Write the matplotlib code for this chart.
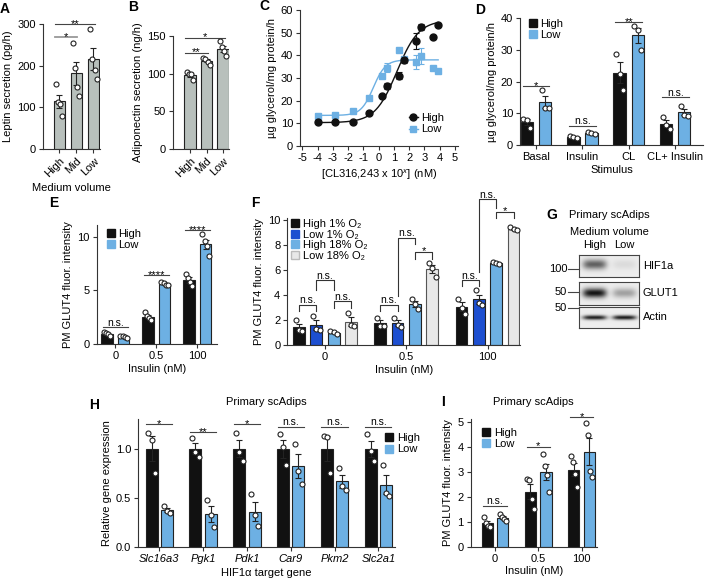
import numpy as np
import matplotlib
matplotlib.use('Agg')
import matplotlib.pyplot as plt
from matplotlib.lines import Line2D

plt.rcParams['font.family'] = ['Liberation Sans', 'DejaVu Sans']
plt.rcParams['font.size'] = 8
plt.rcParams['mathtext.fontset'] = 'custom'
plt.rcParams['mathtext.rm'] = 'Liberation Sans'
plt.rcParams['mathtext.it'] = 'Liberation Sans:italic'
plt.rcParams['axes.linewidth'] = 0.8
plt.rcParams['axes.unicode_minus'] = False

W, H = 705, 585

BLACK = '#111111'
LBLUE = '#6DB0E3'
BLUE = '#1D4FD0'
LGRAY = '#E8E8E8'
GRAYBAR = '#B8C0BC'
AX = '#333333'
EDGE = '#222222'

# ---------------- data ----------------
# A / B: secretion per medium volume
volumes = ['High', 'Mid', 'Low']
leptin = [[157, 112, 108, 80], [255, 195, 148, 127], [288, 215, 190, 169]]
adipo = [[102, 100, 99, 91], [121, 119, 116, 112], [143, 136, 130, 124]]

# C: dose response (log dose, mean, sem)
cl_logdose = [-4, -2.85, -1.7, -0.6, 0.25, 0.55, 1.35, 1.65, 2.45, 2.75, 3.55, 3.9]
cl_high = [10.4, 10.4, 10.7, 14.4, 21.9, 26.5, 31.0, 37.8, 46.3, 52.6, 48.1, 53.2]
cl_high_err = [0, 0, 0, 0, 0, 1.5, 1.5, 1.0, 3.5, 1.3, 0, 0]
cl_low = [13.1, 13.8, 15.4, 21.3, 30.7, 34.6, 42.4, 38.4, 37.1, 39.7, 34.3, 33.2]
cl_low_err = [0, 0, 0, 0, 0, 1.8, 0, 1.0, 3.0, 3.5, 0, 0]
# fitted curves: bottom, top, midpoint, slope
fit_high = (10.3, 55.5, 1.2, 1.4)
fit_low = (13.5, 38.0, -0.35, 2.5)

# D: lipolysis by stimulus
stimuli = ['Basal', 'Insulin', 'CL', 'CL+ Insulin']
d_high = [[8.2, 7.9, 5.2], [2.8, 2.6, 2.2], [28.8, 22.4, 17.3], [8.8, 6.2, 5.0]]
d_low = [[17.3, 11.8, 11.5], [4.0, 3.7, 3.4], [37.5, 36.2, 29.9], [12.4, 9.5, 9.2]]
d_sig = ['*', 'n.s.', '**', 'n.s.']

# E: GLUT4
insulin = ['0', '0.5', '100']
e_high = [[1.15, 1.05, 0.9, 0.75], [3.0, 2.6, 2.4, 2.2], [6.5, 6.2, 5.8, 5.4]]
e_low = [[0.75, 0.7, 0.65, 0.6], [5.8, 5.7, 5.55, 5.5], [10.25, 9.6, 9.1, 8.25]]
e_sig = ['n.s.', '****', '****']

# F: GLUT4 under O2
f_labels = ['High 1% O₂', 'Low 1% O₂', 'High 18% O₂', 'Low 18% O₂']
f_high1 = [[2.0, 1.2, 1.15], [2.2, 1.55, 1.5], [3.7, 3.0, 2.5]]
f_low1 = [[2.35, 1.25, 1.2], [2.2, 1.6, 1.45], [4.4, 3.4, 3.2]]
f_high18 = [[1.1, 1.05, 0.85], [3.7, 3.3, 2.9], [6.65, 6.55, 6.5]]
f_low18 = [[2.55, 1.6, 1.5], [6.6, 6.2, 5.5], [9.5, 9.3, 9.2]]

# G: blot
blot_rows = ['HIF1a', 'GLUT1', 'Actin']
blot_mw = ['100', '50', '50']
blot_signal = [[0.55, 0.07], [0.85, 0.3], [0.8, 0.82]]

# H: qPCR
genes = ['Slc16a3', 'Pgk1', 'Pdk1', 'Car9', 'Pkm2', 'Slc2a1']
h_high = [[1.16, 1.09, 0.75], [1.11, 0.97, 0.92], [1.16, 0.97, 0.87],
          [1.15, 1.02, 0.83], [1.13, 1.12, 0.75], [1.15, 0.98, 0.87]]
h_low = [[0.42, 0.36, 0.34], [0.48, 0.32, 0.2], [0.54, 0.32, 0.21],
         [1.05, 0.77, 0.64], [0.8, 0.62, 0.58], [0.83, 0.55, 0.52]]
h_sig = ['*', '**', '*', 'n.s.', 'n.s.', 'n.s.']

# I: GLUT4 primary cells
i_high = [[1.2, 0.95, 0.85, 0.78], [2.72, 2.68, 1.9, 1.52], [3.64, 3.42, 2.92, 2.41]]
i_low = [[1.3, 1.2, 1.13, 1.05], [3.72, 3.24, 2.9, 2.18], [4.96, 4.49, 3.04, 2.8]]
i_sig = ['n.s.', '*', '*']

# ---------------- helpers ----------------
fig = plt.figure(figsize=(W / 100, H / 100), dpi=100)


def px_axes(x0, y0, x1, y1):
    # pixel box -> figure fraction
    return fig.add_axes([x0 / W, 1 - y1 / H, (x1 - x0) / W, (y1 - y0) / H])


def prism(ax):
    for s in ['top', 'right']:
        ax.spines[s].set_visible(False)
    for s in ['left', 'bottom']:
        ax.spines[s].set_color(AX)
        ax.spines[s].set_linewidth(0.8)
    ax.tick_params(direction='out', length=3, width=0.8, color=AX, labelsize=8, pad=2)


def dot_bars(ax, xs, groups, color, width, edge=EDGE):
    means = [np.mean(g) for g in groups]
    sems = [np.std(g, ddof=1) / np.sqrt(len(g)) for g in groups]
    ax.bar(xs, means, width, color=color, edgecolor=edge, linewidth=0.8, zorder=2)
    ax.errorbar(xs, means, yerr=sems, fmt='none', ecolor=EDGE, elinewidth=0.8,
                capsize=2.5, capthick=0.8, zorder=3)
    for x, g in zip(xs, groups):
        jit = np.linspace(-0.28, 0.28, len(g)) * width
        ax.scatter(x + jit, g, s=13, facecolor='white', edgecolor=EDGE,
                   linewidth=0.8, zorder=4, clip_on=False)


def sig_text(ax, x, y, label, color='black'):
    if label == 'n.s.':
        ax.annotate(label, (x, y), xytext=(0, 1.2), textcoords='offset points',
                    ha='center', va='baseline', fontsize=7.5, color=color, annotation_clip=False)
    else:
        ax.annotate(label, (x, y), xytext=(0, -2), textcoords='offset points',
                    ha='center', va='baseline', fontsize=8, color=color, annotation_clip=False)


def sig_line(ax, x1, x2, y, label, color='#444444', lw=0.8):
    ax.plot([x1, x2], [y, y], color=color, lw=lw, clip_on=False)
    sig_text(ax, (x1 + x2) / 2, y, label)


def bracket(ax, x1, x2, ytop, yl, yr, label):
    ax.plot([x1, x1, x2, x2], [yl, ytop, ytop, yr], color=AX, lw=0.8, clip_on=False)
    sig_text(ax, (x1 + x2) / 2, ytop, label)


def sq(color, edge=None):
    return Line2D([0], [0], marker='s', ls='none', markersize=6,
                  markerfacecolor=color, markeredgecolor=edge or color)


def small_legend(ax, handles, labels, x, y, spacing=0.1):
    ax.legend(handles, labels, loc='upper left', bbox_to_anchor=(x, y), frameon=False,
              fontsize=8, handletextpad=0.3, labelspacing=spacing, borderpad=0,
              borderaxespad=0, handlelength=0.8)


def letter(x, y, s):
    fig.text(x / W, 1 - y / H, s, fontsize=10, fontweight='bold', ha='center', va='center')


# ---------------- A ----------------
axA = px_axes(43, 24, 100, 149)
prism(axA)
xs = np.arange(3)
dot_bars(axA, xs, leptin, GRAYBAR, 0.65)
axA.set_xlim(-0.94, 2.38)
axA.set_ylim(0, 300)
axA.set_yticks([0, 100, 200, 300])
axA.set_xticks(xs)
axA.set_xticklabels(volumes, rotation=45, ha='right', va='top', rotation_mode='anchor')
axA.set_xlabel('Medium volume', labelpad=3)
axA.set_ylabel('Leptin secretion (pg/h)', labelpad=3)
sig_line(axA, -0.24, 1.05, 268, '*', color='#999999', lw=1.3)
sig_line(axA, -0.24, 2.1, 300, '**')

# ---------------- B ----------------
axB = px_axes(173, 36, 229.3, 149)
prism(axB)
dot_bars(axB, xs, adipo, GRAYBAR, 0.72)
axB.set_xlim(-1.03, 2.38)
axB.set_ylim(0, 150)
axB.set_yticks([0, 50, 100, 150])
axB.set_xticks(xs)
axB.set_xticklabels(volumes, rotation=45, ha='right', va='top', rotation_mode='anchor')
axB.set_ylabel('Adiponectin secretion (ng/h)', labelpad=3)
sig_line(axB, -0.3, 1.1, 128, '**')
sig_line(axB, -0.3, 2.1, 148, '*')

# ---------------- C ----------------
axC = px_axes(300, 10, 458, 146)
prism(axC)
xfit = np.linspace(min(cl_logdose), max(cl_logdose), 200)
for (b, t, m, k), col in [(fit_high, BLACK), (fit_low, LBLUE)]:
    axC.plot(xfit, b + (t - b) / (1 + np.exp(-k * (xfit - m))), color=col, lw=1, zorder=2)
axC.errorbar(cl_logdose, cl_low, yerr=cl_low_err, fmt='s', color=LBLUE, ms=5,
             elinewidth=0.8, capsize=2.5, capthick=0.8, zorder=3)
axC.errorbar(cl_logdose, cl_high, yerr=cl_high_err, fmt='o', color=BLACK, ms=5,
             elinewidth=0.8, capsize=2.5, capthick=0.8, zorder=4)
axC.set_xlim(-5.15, 5.2)
axC.set_ylim(0, 60)
axC.set_xticks(range(-5, 6))
axC.set_yticks(range(0, 61, 10))
axC.set_xlabel('[CL316,243 x 10$^{x}$] (nM)', labelpad=3)
axC.set_ylabel('µg glycerol/mg protein/h', labelpad=3)
hC = [Line2D([0], [0], color=BLACK, marker='o', ms=5, lw=1),
      Line2D([0], [0], color=LBLUE, marker='s', ms=5, lw=1)]
small_legend(axC, hC, ['High', 'Low'], 0.69, 0.24)

# ---------------- D ----------------
axD = px_axes(520, 18, 703, 145)
prism(axD)
xs4 = np.arange(4)
dot_bars(axD, xs4 - 0.195, d_high, BLACK, 0.27)
dot_bars(axD, xs4 + 0.195, d_low, LBLUE, 0.27)
axD.set_xlim(-0.345, 3.6)
axD.set_ylim(0, 40)
axD.set_yticks(range(0, 41, 10))
axD.set_xticks(xs4)
axD.set_xticklabels(stimuli)
axD.set_xlabel('Stimulus', labelpad=2)
axD.set_ylabel('µg glycerol/mg protein/h', labelpad=3)
d_sig_y = [18.6, 6.0, 38.7, 15.0]
for x, lab, y in zip(xs4, d_sig, d_sig_y):
    sig_line(axD, x - 0.29, x + 0.29, y, lab)
small_legend(axD, [sq(BLACK), sq(LBLUE)], ['High', 'Low'], 0.045, 0.99)

# ---------------- E ----------------
axE = px_axes(96.7, 225, 216.7, 344)
prism(axE)
dot_bars(axE, xs - 0.2, e_high, BLACK, 0.28)
dot_bars(axE, xs + 0.2, e_low, LBLUE, 0.28)
axE.set_xlim(-0.456, 2.47)
axE.set_ylim(0, 11.1)
axE.set_yticks([0, 5, 10])
axE.set_xticks(xs)
axE.set_xticklabels(insulin)
axE.set_xlabel('Insulin (nM)', labelpad=2)
axE.set_ylabel('PM GLUT4 fluor. intensity', labelpad=3)
e_sig_y = [1.55, 6.45, 10.6]
for x, lab, y in zip(xs, e_sig, e_sig_y):
    sig_line(axE, x - 0.3, x + 0.3, y, lab)
small_legend(axE, [sq(BLACK), sq(LBLUE)], ['High', 'Low'], 0.08, 0.97)

# ---------------- F ----------------
axF = px_axes(287.3, 218, 520, 345)
prism(axF)
f_off = [-0.32, -0.107, 0.107, 0.32]
f_cols = [BLACK, BLUE, LBLUE, LGRAY]
for off, data, col in zip(f_off, [f_high1, f_low1, f_high18, f_low18], f_cols):
    dot_bars(axF, xs + off, data, col, 0.144, edge='#555555' if col == LGRAY else EDGE)
axF.set_xlim(-0.464, 2.4)
axF.set_ylim(0, 10.2)
axF.set_yticks(range(0, 11, 2))
axF.set_xticks(xs)
axF.set_xticklabels(insulin)
axF.set_xlabel('Insulin (nM)', labelpad=2)
axF.set_ylabel('PM GLUT4 fluor. intensity', labelpad=3)
# brackets: (group, left bar, right bar, top, left leg end, right leg end, label)
f_brackets = [(0, 0, 1, 3.2, 2.7, 2.7, 'n.s.'), (0, 2, 3, 3.5, 2.95, 2.95, 'n.s.'),
              (0, 1, 2, 5.2, 4.4, 4.4, 'n.s.'),
              (1, 0, 1, 3.2, 2.75, 2.75, 'n.s.'), (1, 2, 3, 7.5, 6.9, 6.9, '*'),
              (1, 1, 2, 8.6, 3.9, 8.1, 'n.s.'),
              (2, 0, 1, 5.2, 4.7, 4.7, 'n.s.'), (2, 2, 3, 10.7, 10.2, 10.2, '*'),
              (2, 1, 2, 11.7, 5.85, 11.0, 'n.s.')]
for g, a, b, yt, yl, yr, lab in f_brackets:
    bracket(axF, g + f_off[a], g + f_off[b], yt, yl, yr, lab)
small_legend(axF, [sq(c, '#BBBBBB' if c == LGRAY else None) for c in f_cols],
             f_labels, 0.015, 0.99, spacing=0.05)

# ---------------- G (blot) ----------------
fig.text(609 / W, 1 - 215 / H, 'Primary scAdips', ha='center', va='center', fontsize=8)
fig.text(609 / W, 1 - 231.7 / H, 'Medium volume', ha='center', va='center', fontsize=8)
fig.text(595 / W, 1 - 245 / H, 'High', ha='center', va='center', fontsize=8)
fig.text(624 / W, 1 - 245 / H, 'Low', ha='center', va='center', fontsize=8)
blot_boxes = [(255, 277.3), (281.7, 305), (307.3, 327.7)]
band_shape = [(0.45, 0.22), (0.5, 0.2), (0.5, 0.11)]   # vertical centre, spread
mw_y = [0.37, 0.55, 0.95]
lane_x = [0.26, 0.76]
for (y0, y1), name, mw, sig, (cy, sd), my in zip(blot_boxes, blot_rows, blot_mw,
                                                  blot_signal, band_shape, mw_y):
    axb = px_axes(579.3, y0, 639.3, y1)
    gy, gx = np.mgrid[0:1:40j, 0:1:120j]
    img = np.full(gx.shape, 0.93)
    for lx, s in zip(lane_x, sig):
        img -= s * np.exp(-((gx - lx) / 0.2) ** 4) * np.exp(-((gy - cy) / sd) ** 2)
    axb.imshow(img, cmap='gray', vmin=0, vmax=1, aspect='auto', extent=(0, 1, 0, 1))
    axb.set_xticks([])
    axb.set_yticks([])
    for s in axb.spines.values():
        s.set_color('#444444')
        s.set_linewidth(0.8)
    axb.plot([-0.19, 0], [my, my], color='#444444', lw=0.8, clip_on=False,
             transform=axb.transAxes)
    axb.text(-0.2, my, mw, ha='right', va='center', fontsize=8, transform=axb.transAxes)
    axb.text(1.06, 0.5, name, ha='left', va='center', fontsize=8, transform=axb.transAxes)

# ---------------- H ----------------
axH = px_axes(138.3, 419.3, 395, 546.7)
prism(axH)
xs6 = np.arange(6)
dot_bars(axH, xs6 - 0.175, h_high, BLACK, 0.274)
dot_bars(axH, xs6 + 0.175, h_low, LBLUE, 0.274)
axH.set_xlim(-0.48, 5.38)
axH.set_ylim(0, 1.3)
axH.set_yticks([0, 0.5, 1.0])
axH.set_yticklabels(['0.0', '0.5', '1.0'])
axH.set_xticks(xs6)
axH.set_xticklabels(genes, style='italic')
axH.set_xlabel('HIF1α target gene', labelpad=3)
axH.set_ylabel('Relative gene expression', labelpad=3)
axH.set_title('Primary scAdips', fontsize=8, pad=10)
h_sig_y = [1.25, 1.17, 1.25, 1.22, 1.22, 1.22]
for x, lab, y in zip(xs6, h_sig, h_sig_y):
    sig_line(axH, x - 0.3, x + 0.3, y, lab)
small_legend(axH, [sq(BLACK), sq(LBLUE)], ['High', 'Low'], 0.96, 0.89)

# ---------------- I ----------------
axI = px_axes(470.7, 419.3, 596.7, 546.7)
prism(axI)
dot_bars(axI, xs - 0.18, i_high, BLACK, 0.26)
dot_bars(axI, xs + 0.18, i_low, LBLUE, 0.26)
axI.set_xlim(-0.56, 2.35)
axI.set_ylim(0, 5.12)
axI.set_yticks(range(6))
axI.set_xticks(xs)
axI.set_xticklabels(insulin)
axI.set_xlabel('Insulin (nM)', labelpad=2)
axI.set_ylabel('PM GLUT4 fluor. intensity', labelpad=3)
axI.set_title('Primary scAdips', fontsize=8, pad=10)
i_sig_y = [1.63, 4.02, 5.22]
for x, lab, y in zip(xs, i_sig, i_sig_y):
    sig_line(axI, x - 0.27, x + 0.27, y, lab)
small_legend(axI, [sq(BLACK), sq(LBLUE)], ['High', 'Low'], 0.09, 0.93)

# panel letters
for s, x, y in [('A', 5, 9), ('B', 133, 7), ('C', 264, 6), ('D', 480, 10), ('E', 54, 203),
                ('F', 255, 203), ('G', 552, 215), ('H', 94, 405), ('I', 443, 402)]:
    letter(x, y, s)

fig.savefig('out.png', dpi=100)
